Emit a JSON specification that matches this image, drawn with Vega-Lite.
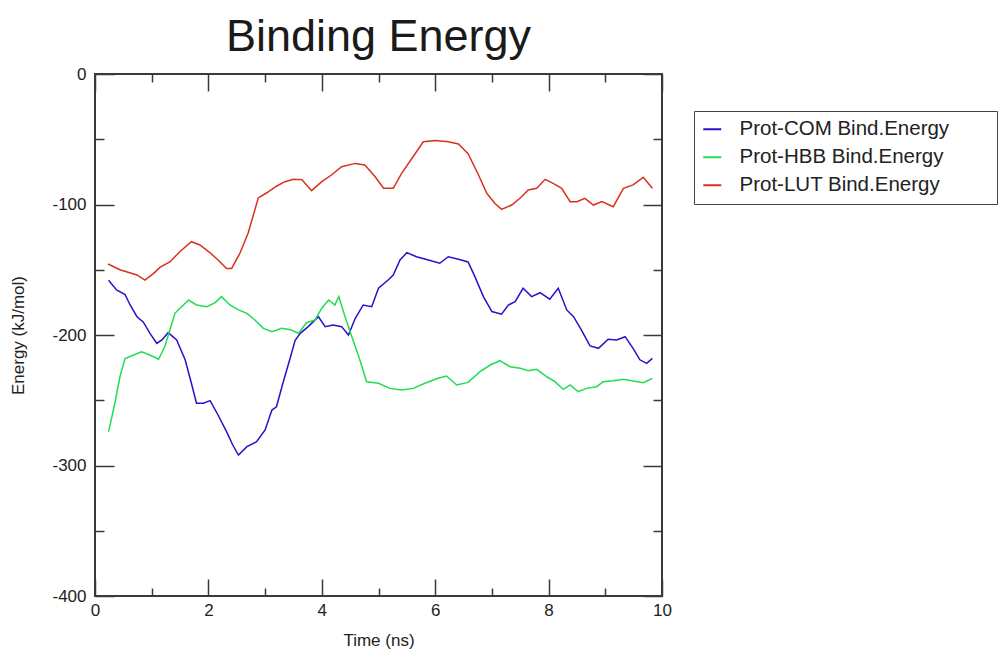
{
"$schema": "https://vega.github.io/schema/vega-lite/v6.json",
"width": 567, "height": 522,
"autosize": {"type": "none"},
"padding": {"left": 95, "top": 74, "right": 336, "bottom": 55},
"background": "white",
"title": {"text": "Binding Energy", "fontSize": 45, "font": "Liberation Sans", "fontWeight": "normal", "color": "#1a1a1a", "anchor": "middle", "offset": 5},
"config": {
  "view": {"stroke": "#3a3a3a", "strokeWidth": 2},
  "axis": {"domain": false, "grid": false, "tickColor": "#3a3a3a", "tickWidth": 1.5, "labelFont": "Liberation Sans", "labelFontSize": 17, "labelColor": "#222", "titleFont": "Liberation Sans", "titleFontSize": 17, "titleFontWeight": "normal", "titleColor": "#222", "labelFlush": false, "labelOverlap": false}
},
"datasets": {
"d": [
{"t":0.24,"e":-158,"s":"Prot-COM Bind.Energy"},{"t":0.38,"e":-165.5,"s":"Prot-COM Bind.Energy"},{"t":0.53,"e":-169,"s":"Prot-COM Bind.Energy"},{"t":0.62,"e":-177,"s":"Prot-COM Bind.Energy"},{"t":0.74,"e":-186,"s":"Prot-COM Bind.Energy"},{"t":0.85,"e":-190,"s":"Prot-COM Bind.Energy"},{"t":0.97,"e":-198.7,"s":"Prot-COM Bind.Energy"},{"t":1.09,"e":-206.4,"s":"Prot-COM Bind.Energy"},{"t":1.18,"e":-203.8,"s":"Prot-COM Bind.Energy"},{"t":1.29,"e":-198.2,"s":"Prot-COM Bind.Energy"},{"t":1.44,"e":-203.8,"s":"Prot-COM Bind.Energy"},{"t":1.59,"e":-219,"s":"Prot-COM Bind.Energy"},{"t":1.70,"e":-237,"s":"Prot-COM Bind.Energy"},{"t":1.79,"e":-252.3,"s":"Prot-COM Bind.Energy"},{"t":1.91,"e":-252.3,"s":"Prot-COM Bind.Energy"},{"t":2.03,"e":-250.3,"s":"Prot-COM Bind.Energy"},{"t":2.17,"e":-261.3,"s":"Prot-COM Bind.Energy"},{"t":2.32,"e":-274,"s":"Prot-COM Bind.Energy"},{"t":2.43,"e":-284.3,"s":"Prot-COM Bind.Energy"},{"t":2.53,"e":-292,"s":"Prot-COM Bind.Energy"},{"t":2.68,"e":-285.6,"s":"Prot-COM Bind.Energy"},{"t":2.85,"e":-281.8,"s":"Prot-COM Bind.Energy"},{"t":3.0,"e":-272.8,"s":"Prot-COM Bind.Energy"},{"t":3.12,"e":-257.5,"s":"Prot-COM Bind.Energy"},{"t":3.2,"e":-255,"s":"Prot-COM Bind.Energy"},{"t":3.32,"e":-236,"s":"Prot-COM Bind.Energy"},{"t":3.44,"e":-218,"s":"Prot-COM Bind.Energy"},{"t":3.53,"e":-204,"s":"Prot-COM Bind.Energy"},{"t":3.62,"e":-198.7,"s":"Prot-COM Bind.Energy"},{"t":3.76,"e":-193.6,"s":"Prot-COM Bind.Energy"},{"t":3.94,"e":-186,"s":"Prot-COM Bind.Energy"},{"t":4.06,"e":-193.6,"s":"Prot-COM Bind.Energy"},{"t":4.2,"e":-192.3,"s":"Prot-COM Bind.Energy"},{"t":4.35,"e":-193.6,"s":"Prot-COM Bind.Energy"},{"t":4.47,"e":-200,"s":"Prot-COM Bind.Energy"},{"t":4.59,"e":-187.2,"s":"Prot-COM Bind.Energy"},{"t":4.73,"e":-177,"s":"Prot-COM Bind.Energy"},{"t":4.88,"e":-178.3,"s":"Prot-COM Bind.Energy"},{"t":5.0,"e":-164.2,"s":"Prot-COM Bind.Energy"},{"t":5.17,"e":-157.9,"s":"Prot-COM Bind.Energy"},{"t":5.26,"e":-154,"s":"Prot-COM Bind.Energy"},{"t":5.38,"e":-142.5,"s":"Prot-COM Bind.Energy"},{"t":5.5,"e":-136.9,"s":"Prot-COM Bind.Energy"},{"t":5.67,"e":-140,"s":"Prot-COM Bind.Energy"},{"t":5.88,"e":-142.5,"s":"Prot-COM Bind.Energy"},{"t":6.08,"e":-145,"s":"Prot-COM Bind.Energy"},{"t":6.23,"e":-140,"s":"Prot-COM Bind.Energy"},{"t":6.41,"e":-142,"s":"Prot-COM Bind.Energy"},{"t":6.58,"e":-144,"s":"Prot-COM Bind.Energy"},{"t":6.70,"e":-155.3,"s":"Prot-COM Bind.Energy"},{"t":6.85,"e":-170.6,"s":"Prot-COM Bind.Energy"},{"t":7.0,"e":-182,"s":"Prot-COM Bind.Energy"},{"t":7.17,"e":-184,"s":"Prot-COM Bind.Energy"},{"t":7.29,"e":-177,"s":"Prot-COM Bind.Energy"},{"t":7.41,"e":-174.5,"s":"Prot-COM Bind.Energy"},{"t":7.55,"e":-164.2,"s":"Prot-COM Bind.Energy"},{"t":7.70,"e":-170.6,"s":"Prot-COM Bind.Energy"},{"t":7.85,"e":-167.6,"s":"Prot-COM Bind.Energy"},{"t":8.02,"e":-172.6,"s":"Prot-COM Bind.Energy"},{"t":8.17,"e":-164.2,"s":"Prot-COM Bind.Energy"},{"t":8.32,"e":-180.8,"s":"Prot-COM Bind.Energy"},{"t":8.44,"e":-186,"s":"Prot-COM Bind.Energy"},{"t":8.58,"e":-196.2,"s":"Prot-COM Bind.Energy"},{"t":8.73,"e":-208.4,"s":"Prot-COM Bind.Energy"},{"t":8.88,"e":-210.2,"s":"Prot-COM Bind.Energy"},{"t":9.05,"e":-203.3,"s":"Prot-COM Bind.Energy"},{"t":9.2,"e":-203.8,"s":"Prot-COM Bind.Energy"},{"t":9.35,"e":-201.3,"s":"Prot-COM Bind.Energy"},{"t":9.49,"e":-210.2,"s":"Prot-COM Bind.Energy"},{"t":9.61,"e":-219,"s":"Prot-COM Bind.Energy"},{"t":9.73,"e":-221.7,"s":"Prot-COM Bind.Energy"},{"t":9.83,"e":-217.9,"s":"Prot-COM Bind.Energy"},
{"t":0.24,"e":-274,"s":"Prot-HBB Bind.Energy"},{"t":0.35,"e":-252.3,"s":"Prot-HBB Bind.Energy"},{"t":0.44,"e":-232,"s":"Prot-HBB Bind.Energy"},{"t":0.53,"e":-218,"s":"Prot-HBB Bind.Energy"},{"t":0.68,"e":-215.3,"s":"Prot-HBB Bind.Energy"},{"t":0.82,"e":-212.8,"s":"Prot-HBB Bind.Energy"},{"t":0.97,"e":-215.3,"s":"Prot-HBB Bind.Energy"},{"t":1.12,"e":-218.6,"s":"Prot-HBB Bind.Energy"},{"t":1.23,"e":-209,"s":"Prot-HBB Bind.Energy"},{"t":1.32,"e":-196.2,"s":"Prot-HBB Bind.Energy"},{"t":1.41,"e":-183.4,"s":"Prot-HBB Bind.Energy"},{"t":1.50,"e":-179.5,"s":"Prot-HBB Bind.Energy"},{"t":1.65,"e":-173.2,"s":"Prot-HBB Bind.Energy"},{"t":1.79,"e":-177,"s":"Prot-HBB Bind.Energy"},{"t":1.97,"e":-178.3,"s":"Prot-HBB Bind.Energy"},{"t":2.12,"e":-175.2,"s":"Prot-HBB Bind.Energy"},{"t":2.23,"e":-170.6,"s":"Prot-HBB Bind.Energy"},{"t":2.38,"e":-177,"s":"Prot-HBB Bind.Energy"},{"t":2.53,"e":-180.8,"s":"Prot-HBB Bind.Energy"},{"t":2.68,"e":-183.4,"s":"Prot-HBB Bind.Energy"},{"t":2.82,"e":-188.5,"s":"Prot-HBB Bind.Energy"},{"t":2.97,"e":-194.9,"s":"Prot-HBB Bind.Energy"},{"t":3.12,"e":-197.5,"s":"Prot-HBB Bind.Energy"},{"t":3.29,"e":-194.9,"s":"Prot-HBB Bind.Energy"},{"t":3.45,"e":-196,"s":"Prot-HBB Bind.Energy"},{"t":3.59,"e":-198.7,"s":"Prot-HBB Bind.Energy"},{"t":3.73,"e":-190.6,"s":"Prot-HBB Bind.Energy"},{"t":3.88,"e":-188.5,"s":"Prot-HBB Bind.Energy"},{"t":4.0,"e":-179.5,"s":"Prot-HBB Bind.Energy"},{"t":4.12,"e":-173.2,"s":"Prot-HBB Bind.Energy"},{"t":4.23,"e":-177,"s":"Prot-HBB Bind.Energy"},{"t":4.30,"e":-170.6,"s":"Prot-HBB Bind.Energy"},{"t":4.41,"e":-186,"s":"Prot-HBB Bind.Energy"},{"t":4.53,"e":-201.3,"s":"Prot-HBB Bind.Energy"},{"t":4.67,"e":-219,"s":"Prot-HBB Bind.Energy"},{"t":4.79,"e":-235.8,"s":"Prot-HBB Bind.Energy"},{"t":5.0,"e":-237,"s":"Prot-HBB Bind.Energy"},{"t":5.2,"e":-240.9,"s":"Prot-HBB Bind.Energy"},{"t":5.41,"e":-242.1,"s":"Prot-HBB Bind.Energy"},{"t":5.61,"e":-240.9,"s":"Prot-HBB Bind.Energy"},{"t":5.82,"e":-237,"s":"Prot-HBB Bind.Energy"},{"t":6.05,"e":-233.2,"s":"Prot-HBB Bind.Energy"},{"t":6.2,"e":-231.4,"s":"Prot-HBB Bind.Energy"},{"t":6.38,"e":-238.3,"s":"Prot-HBB Bind.Energy"},{"t":6.58,"e":-236.3,"s":"Prot-HBB Bind.Energy"},{"t":6.79,"e":-228.1,"s":"Prot-HBB Bind.Energy"},{"t":6.97,"e":-223,"s":"Prot-HBB Bind.Energy"},{"t":7.14,"e":-219.7,"s":"Prot-HBB Bind.Energy"},{"t":7.32,"e":-224.3,"s":"Prot-HBB Bind.Energy"},{"t":7.5,"e":-225.5,"s":"Prot-HBB Bind.Energy"},{"t":7.64,"e":-227.4,"s":"Prot-HBB Bind.Energy"},{"t":7.79,"e":-226.3,"s":"Prot-HBB Bind.Energy"},{"t":7.97,"e":-232,"s":"Prot-HBB Bind.Energy"},{"t":8.11,"e":-235.8,"s":"Prot-HBB Bind.Energy"},{"t":8.26,"e":-241.6,"s":"Prot-HBB Bind.Energy"},{"t":8.38,"e":-238.3,"s":"Prot-HBB Bind.Energy"},{"t":8.52,"e":-243.4,"s":"Prot-HBB Bind.Energy"},{"t":8.67,"e":-240.9,"s":"Prot-HBB Bind.Energy"},{"t":8.85,"e":-239.6,"s":"Prot-HBB Bind.Energy"},{"t":8.96,"e":-235.8,"s":"Prot-HBB Bind.Energy"},{"t":9.14,"e":-235,"s":"Prot-HBB Bind.Energy"},{"t":9.32,"e":-234,"s":"Prot-HBB Bind.Energy"},{"t":9.49,"e":-235.2,"s":"Prot-HBB Bind.Energy"},{"t":9.67,"e":-236.5,"s":"Prot-HBB Bind.Energy"},{"t":9.83,"e":-233.2,"s":"Prot-HBB Bind.Energy"},
{"t":0.23,"e":-145.6,"s":"Prot-LUT Bind.Energy"},{"t":0.44,"e":-150,"s":"Prot-LUT Bind.Energy"},{"t":0.74,"e":-154,"s":"Prot-LUT Bind.Energy"},{"t":0.88,"e":-158,"s":"Prot-LUT Bind.Energy"},{"t":1.03,"e":-153,"s":"Prot-LUT Bind.Energy"},{"t":1.15,"e":-148,"s":"Prot-LUT Bind.Energy"},{"t":1.32,"e":-144,"s":"Prot-LUT Bind.Energy"},{"t":1.5,"e":-136,"s":"Prot-LUT Bind.Energy"},{"t":1.70,"e":-128.5,"s":"Prot-LUT Bind.Energy"},{"t":1.85,"e":-131,"s":"Prot-LUT Bind.Energy"},{"t":2.03,"e":-137,"s":"Prot-LUT Bind.Energy"},{"t":2.17,"e":-142.5,"s":"Prot-LUT Bind.Energy"},{"t":2.32,"e":-149,"s":"Prot-LUT Bind.Energy"},{"t":2.41,"e":-149,"s":"Prot-LUT Bind.Energy"},{"t":2.56,"e":-137,"s":"Prot-LUT Bind.Energy"},{"t":2.70,"e":-122,"s":"Prot-LUT Bind.Energy"},{"t":2.88,"e":-95,"s":"Prot-LUT Bind.Energy"},{"t":3.03,"e":-91,"s":"Prot-LUT Bind.Energy"},{"t":3.2,"e":-86,"s":"Prot-LUT Bind.Energy"},{"t":3.35,"e":-82.5,"s":"Prot-LUT Bind.Energy"},{"t":3.5,"e":-80.6,"s":"Prot-LUT Bind.Energy"},{"t":3.65,"e":-81,"s":"Prot-LUT Bind.Energy"},{"t":3.82,"e":-89.4,"s":"Prot-LUT Bind.Energy"},{"t":4.0,"e":-82.5,"s":"Prot-LUT Bind.Energy"},{"t":4.17,"e":-77.4,"s":"Prot-LUT Bind.Energy"},{"t":4.35,"e":-71,"s":"Prot-LUT Bind.Energy"},{"t":4.59,"e":-68.5,"s":"Prot-LUT Bind.Energy"},{"t":4.76,"e":-69.7,"s":"Prot-LUT Bind.Energy"},{"t":4.94,"e":-78.7,"s":"Prot-LUT Bind.Energy"},{"t":5.09,"e":-87.6,"s":"Prot-LUT Bind.Energy"},{"t":5.26,"e":-87.6,"s":"Prot-LUT Bind.Energy"},{"t":5.41,"e":-76,"s":"Prot-LUT Bind.Energy"},{"t":5.61,"e":-63.4,"s":"Prot-LUT Bind.Energy"},{"t":5.79,"e":-51.9,"s":"Prot-LUT Bind.Energy"},{"t":6.0,"e":-51,"s":"Prot-LUT Bind.Energy"},{"t":6.23,"e":-51.9,"s":"Prot-LUT Bind.Energy"},{"t":6.41,"e":-53.6,"s":"Prot-LUT Bind.Energy"},{"t":6.58,"e":-61,"s":"Prot-LUT Bind.Energy"},{"t":6.76,"e":-77,"s":"Prot-LUT Bind.Energy"},{"t":6.91,"e":-91.4,"s":"Prot-LUT Bind.Energy"},{"t":7.05,"e":-99,"s":"Prot-LUT Bind.Energy"},{"t":7.17,"e":-103.7,"s":"Prot-LUT Bind.Energy"},{"t":7.35,"e":-100.4,"s":"Prot-LUT Bind.Energy"},{"t":7.5,"e":-95,"s":"Prot-LUT Bind.Energy"},{"t":7.64,"e":-88.9,"s":"Prot-LUT Bind.Energy"},{"t":7.79,"e":-87.6,"s":"Prot-LUT Bind.Energy"},{"t":7.94,"e":-80.7,"s":"Prot-LUT Bind.Energy"},{"t":8.08,"e":-83.8,"s":"Prot-LUT Bind.Energy"},{"t":8.23,"e":-87.6,"s":"Prot-LUT Bind.Energy"},{"t":8.38,"e":-97.8,"s":"Prot-LUT Bind.Energy"},{"t":8.5,"e":-97.8,"s":"Prot-LUT Bind.Energy"},{"t":8.64,"e":-95.3,"s":"Prot-LUT Bind.Energy"},{"t":8.79,"e":-100.4,"s":"Prot-LUT Bind.Energy"},{"t":8.94,"e":-97.8,"s":"Prot-LUT Bind.Energy"},{"t":9.14,"e":-101.7,"s":"Prot-LUT Bind.Energy"},{"t":9.32,"e":-87.6,"s":"Prot-LUT Bind.Energy"},{"t":9.49,"e":-85,"s":"Prot-LUT Bind.Energy"},{"t":9.67,"e":-79.2,"s":"Prot-LUT Bind.Energy"},{"t":9.83,"e":-87.6,"s":"Prot-LUT Bind.Energy"}
]
},
"data": {"name": "d"},
"layer": [
  {
    "mark": {"type": "line", "strokeWidth": 1.5},
    "encoding": {
      "x": {"field": "t", "type": "quantitative", "scale": {"domain": [0, 10], "nice": false, "zero": false},
        "axis": {"orient": "bottom", "values": [0,2,4,6,8,10], "ticks": false, "labelPadding": 6, "title": "Time (ns)", "titleX": 283.5, "titleY": 44, "titleBaseline": "middle", "titleAlign": "center"}},
      "y": {"field": "e", "type": "quantitative", "scale": {"domain": [-400, 0], "nice": false, "zero": false},
        "axis": {"orient": "left", "values": [-400,-300,-200,-100,0], "ticks": false, "labelExpr": "'' + datum.value", "labelPadding": 9, "title": "Energy (kJ/mol)", "titleX": -77, "titleY": 261, "titleAngle": -90, "titleBaseline": "middle", "titleAlign": "center"}},
      "color": {"field": "s", "type": "nominal",
        "scale": {"domain": ["Prot-COM Bind.Energy", "Prot-HBB Bind.Energy", "Prot-LUT Bind.Energy"], "range": ["#2a10c8", "#22dc52", "#d8321c"]},
        "legend": {"orient": "none", "legendX": 599, "legendY": 37, "title": null, "symbolType": "stroke", "symbolSize": 324, "symbolStrokeWidth": 2, "labelFont": "Liberation Sans", "labelFontSize": 20.5, "labelColor": "#222", "labelOffset": 17, "rowPadding": 7, "padding": 8, "strokeColor": "#444", "labelExpr": "datum.label + '\u00a0\u00a0\u00a0\u00a0\u00a0\u00a0\u00a0\u200b'", "labelLimit": 400}}
    }
  },
  {
    "mark": {"type": "line", "strokeOpacity": 0},
    "encoding": {
      "x": {"field": "t", "type": "quantitative", "scale": {"domain": [0, 10], "nice": false, "zero": false},
        "axis": {"orient": "bottom", "values": [0,2,4,6,8,10], "labels": false, "title": null, "tickSize": -17}},
      "y": {"field": "e", "type": "quantitative", "scale": {"domain": [-400, 0], "nice": false, "zero": false},
        "axis": {"orient": "left", "values": [-400,-300,-200,-100,0], "labels": false, "title": null, "tickSize": -19}},
      "detail": {"field": "s", "type": "nominal"}
    }
  },
  {
    "mark": {"type": "line", "strokeOpacity": 0},
    "encoding": {
      "x": {"field": "t", "type": "quantitative", "scale": {"domain": [0, 10], "nice": false, "zero": false},
        "axis": {"orient": "bottom", "values": [1,3,5,7,9], "labels": false, "title": null, "tickSize": -8}},
      "y": {"field": "e", "type": "quantitative", "scale": {"domain": [-400, 0], "nice": false, "zero": false},
        "axis": {"orient": "left", "values": [-350,-250,-150,-50], "labels": false, "title": null, "tickSize": -9}},
      "detail": {"field": "s", "type": "nominal"}
    }
  },
  {
    "mark": {"type": "line", "strokeOpacity": 0},
    "encoding": {
      "x": {"field": "t", "type": "quantitative", "scale": {"domain": [0, 10], "nice": false, "zero": false},
        "axis": {"orient": "top", "values": [0,2,4,6,8,10], "labels": false, "title": null, "tickSize": -17}},
      "y": {"field": "e", "type": "quantitative", "scale": {"domain": [-400, 0], "nice": false, "zero": false},
        "axis": {"orient": "right", "values": [-400,-300,-200,-100,0], "labels": false, "title": null, "tickSize": -19}},
      "detail": {"field": "s", "type": "nominal"}
    }
  },
  {
    "mark": {"type": "line", "strokeOpacity": 0},
    "encoding": {
      "x": {"field": "t", "type": "quantitative", "scale": {"domain": [0, 10], "nice": false, "zero": false},
        "axis": {"orient": "top", "values": [1,3,5,7,9], "labels": false, "title": null, "tickSize": -8}},
      "y": {"field": "e", "type": "quantitative", "scale": {"domain": [-400, 0], "nice": false, "zero": false},
        "axis": {"orient": "right", "values": [-350,-250,-150,-50], "labels": false, "title": null, "tickSize": -9}},
      "detail": {"field": "s", "type": "nominal"}
    }
  }
],
"resolve": {"axis": {"x": "independent", "y": "independent"}}
}
